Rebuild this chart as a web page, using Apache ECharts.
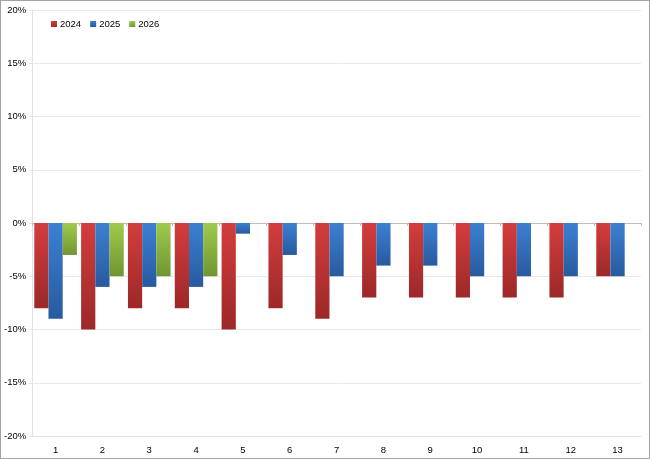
<!DOCTYPE html>
<html>
<head>
<meta charset="utf-8">
<script src="https://cdn.jsdelivr.net/npm/echarts@6/dist/echarts.min.js"></script>
<style>
    html, body {margin: 0; padding: 0; background: #fff;}
    #wrap {width: 650px; height: 459px; box-sizing: border-box; border: 1px solid #a3a3a3;}
    #chart {width: 648px; height: 457px;}
</style>
</head>
<body>
<div id="wrap"><div id="chart"></div></div>
<script>
const categories = ['1', '2', '3', '4', '5', '6', '7', '8', '9', '10', '11', '12', '13'];
const values2024 = [-8, -10, -8, -8, -10, -8, -9, -7, -7, -7, -7, -7, -5];
const values2025 = [-9, -6, -6, -6, -1, -3, -5, -4, -4, -5, -5, -5, -5];
const values2026 = [-3, -5, -5, -5, null, null, null, null, null, null, null, null, null];

// verticaal verloop, licht bovenaan en donker onderaan
function grad (top, bottom){
    return new echarts.graphic.LinearGradient(0, 0, 0, 1, [
        {offset: 0, color: top},
        {offset: 1, color: bottom}
    ]);
}

const labelFont = {color: '#000', fontSize: 9.5, fontFamily: 'Liberation Sans'};

const myChart = echarts.init(document.getElementById('chart'));
myChart.setOption({
    animation: false,
    legend: {
        left: 45,
        top: 13,
        itemWidth: 6,
        itemHeight: 6,
        itemGap: 9,
        icon: 'rect',
        textStyle: Object.assign({padding: [0, 0, 0, -2]}, labelFont),
        data: ['2024', '2025', '2026']
    },
    grid: {left: 31, right: 8, top: 9, bottom: 22},
    xAxis: [
        {
            type: 'category',
            data: categories,
            axisLine: {onZero: false, lineStyle: {color: '#e3e3e3'}},
            axisTick: {show: false},
            axisLabel: Object.assign({margin: 9}, labelFont)
        },
        {
            // nullijn met streepjes
            type: 'category',
            data: categories,
            position: 'bottom',
            axisLine: {onZero: true, lineStyle: {color: '#bdbdbd', width: 1}},
            axisTick: {show: true, length: 3, lineStyle: {color: '#bdbdbd'}},
            axisLabel: {show: false}
        }
    ],
    yAxis: {
        type: 'value',
        min: -20,
        max: 20,
        interval: 5,
        axisLine: {show: true, lineStyle: {color: '#e3e3e3'}},
        axisTick: {show: true, length: 3, lineStyle: {color: '#e3e3e3'}},
        splitLine: {lineStyle: {color: '#e8e8e8'}},
        axisLabel: Object.assign({formatter: '{value}%', margin: 6}, labelFont)
    },
    series: [
        {
            name: '2024',
            type: 'bar',
            data: values2024,
            barGap: '0%',
            barCategoryGap: '9%',
            itemStyle: {color: grad('#d43d3d', '#9c2828')}
        },
        {
            name: '2025',
            type: 'bar',
            data: values2025,
            itemStyle: {color: grad('#3c80d2', '#285a9e')}
        },
        {
            name: '2026',
            type: 'bar',
            data: values2026,
            itemStyle: {color: grad('#9fca4c', '#6f9632')}
        }
    ]
});
</script>
</body>
</html>
